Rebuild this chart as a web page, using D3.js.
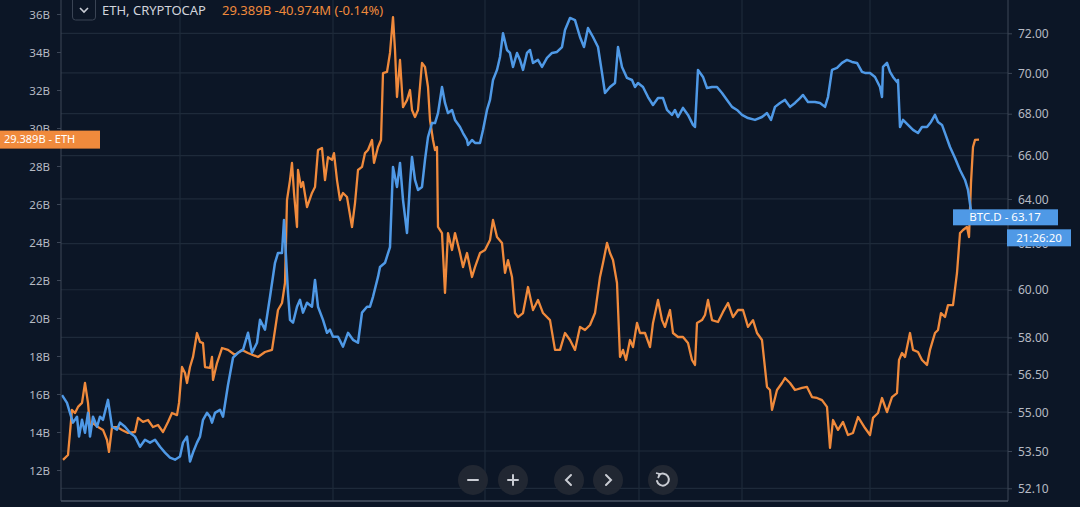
<!DOCTYPE html>
<html><head><meta charset="utf-8">
<script src="https://cdn.jsdelivr.net/npm/d3@7"></script>
<style>
html,body{margin:0;padding:0;background:#0c1626;}
svg{display:block;}
text{font-family:"Noto Sans","DejaVu Sans",sans-serif;}
</style></head>
<body><svg id="c" width="1080" height="507"></svg>
<script>
// ETH market cap (billions USD), [day, value]
const ethData = [[0.4,12.53],[2.4,12.79],[4,15.16],[5.2,15.0],[6.4,15.32],[8,15.53],[9.2,16.58],[10.4,15.53],[11.2,14.26],[12.4,14.47],[14.4,14.26],[16.4,14.11],[18,13.58],[18.8,12.95],[20,14.26],[22,14.26],[24,14.11],[26.4,13.95],[29.2,14.0],[30.4,14.74],[32.4,14.53],[34.4,14.63],[36.4,14.26],[38.4,14.37],[40.4,14.0],[42.4,14.53],[44,15.0],[46,14.89],[46.8,15.53],[48,17.42],[49.2,17.11],[50,16.58],[51.2,17.42],[52.4,17.95],[54,19.21],[55.2,18.74],[56.4,18.68],[57.2,17.42],[59.2,17.37],[60,17.95],[60.4,16.74],[62,17.63],[64,18.42],[66.4,18.32],[69.2,18.05],[72,18.32],[74.4,18.16],[78.4,17.95],[81.2,18.21],[84,18.32],[85.2,19.37],[86.4,20.42],[88,20.79],[89.2,21.84],[90,26.21],[91.2,27.26],[92,28.16],[92.8,26.58],[94,24.79],[94.4,27.79],[95.6,26.89],[96.4,27.16],[98,25.84],[100,26.58],[101.2,26.89],[102.4,28.84],[104,28.95],[105.2,27.26],[106.4,28.47],[108,28.32],[108.8,28.68],[110,27.26],[111.2,26.21],[112.4,26.58],[114,26.37],[116,24.79],[117.2,26.05],[118.4,27.79],[120,27.95],[121.2,28.68],[122.4,28.84],[124,29.37],[124.8,28.16],[126.4,29.0],[127.6,29.37],[128.4,32.89],[130,32.95],[131.2,33.95],[132.4,35.84],[133.2,34.1],[134,31.63],[135.2,33.58],[136.4,31.1],[138,31.47],[139.2,32.0],[140,30.95],[141.2,30.58],[142.4,30.95],[144,33.42],[145.2,33.21],[146.4,32.16],[147.2,30.42],[148.4,29.37],[149.2,28.84],[150,29.0],[150.4,24.79],[152,24.47],[153.2,21.32],[154.4,24.47],[156,23.58],[157.2,24.47],[159.2,23.42],[160.4,22.68],[162,23.42],[164,22.16],[165.2,22.68],[167.2,23.42],[169.2,23.58],[171.2,24.1],[172.4,25.16],[174,24.26],[176,23.95],[177.2,22.37],[178.4,23.05],[180,22.16],[181.2,20.26],[182.4,20.05],[184.4,20.26],[186.4,21.63],[188.4,20.42],[190.4,20.95],[192.4,20.26],[195.2,19.89],[197.2,18.32],[199.2,18.32],[201.2,19.21],[203.2,18.84],[205.2,18.32],[207.2,19.53],[209.2,19.37],[211.2,19.63],[213.2,20.26],[215.2,22.16],[216.4,22.89],[218,23.95],[219.2,23.42],[220.4,23.05],[222,21.84],[223.2,17.95],[224.4,18.32],[225.6,17.79],[227.2,18.84],[228.4,18.47],[230,19.74],[231.2,19.21],[233.2,19.21],[235.2,18.47],[236.4,19.74],[238.4,20.95],[240,19.89],[241.2,19.53],[243.2,20.42],[244.4,19.21],[246.4,19.0],[248.4,19.0],[250.4,18.68],[252,17.79],[253.2,17.53],[254,19.74],[256,19.89],[257.2,20.16],[258.4,20.95],[260,19.89],[262.4,19.79],[264.4,20.32],[266.4,20.79],[268.4,20.05],[270.4,20.42],[272.4,20.42],[274.4,19.53],[276.4,19.89],[278,19.21],[280,18.84],[282,16.37],[283.2,16.21],[284,15.16],[286,16.21],[288,16.58],[289.2,16.84],[291.2,16.58],[293.2,16.21],[296,16.32],[298,16.37],[300,15.84],[302,15.79],[304,15.68],[306,15.32],[307.2,13.16],[308.4,14.63],[310.4,14.11],[312.4,14.53],[314.4,13.84],[316.4,13.95],[318.4,14.79],[321.2,14.21],[323.2,13.84],[324.4,14.74],[326.4,15.0],[328,15.79],[330,15.05],[332,15.84],[334,16.05],[334.8,17.79],[336,18.16],[337.2,17.95],[339.2,19.21],[340.4,18.32],[342.4,18.21],[344,17.79],[346,17.53],[347.2,18.32],[349.2,19.21],[350.4,19.37],[351.6,20.26],[353.2,20.05],[354.4,20.68],[356.4,20.68],[358,22.37],[359.2,24.47],[360.4,24.63],[362,24.79],[362.8,24.26],[363.6,27.11],[364.4,29.0],[365.2,29.37],[366.8,29.389]];

// BTC dominance (%), [day, value]
const btcData = [[0,55.67],[2,55.36],[3.2,54.97],[4.4,54.59],[6,54.82],[6.8,54.05],[8,54.70],[9.2,54.20],[10.4,54.97],[11.2,54.05],[12.4,54.82],[14,54.43],[15.2,54.82],[16.4,54.70],[18.4,55.48],[20,54.43],[22,54.32],[23.2,54.59],[25.2,54.43],[27.2,54.20],[29.2,54.05],[31.2,53.66],[33.2,53.93],[35.2,53.82],[37.2,53.93],[39.2,53.66],[41.2,53.44],[43.2,53.25],[45.2,53.17],[47.2,53.29],[48.4,53.82],[50,54.05],[51.2,53.10],[52.4,53.44],[54,53.82],[55.2,54.05],[56.4,54.70],[58,54.97],[59.2,54.82],[60,54.59],[61.2,54.97],[63.2,55.09],[64.4,54.82],[66.4,56.07],[68.4,57.17],[70.4,57.37],[72.4,57.49],[74.4,58.19],[76,57.37],[78,57.78],[79.2,58.73],[81.2,58.32],[83.2,59.70],[85.2,61.16],[86.4,61.59],[88,61.59],[88.8,63.05],[89.6,61.42],[90.4,59.87],[91.2,58.73],[92.4,58.61],[94,59.28],[95.2,59.57],[96.4,59.03],[98,59.45],[100,59.28],[101.2,60.42],[102.4,59.28],[104.4,58.73],[106,58.19],[107.2,58.32],[108.4,58.03],[110.4,58.03],[112.4,57.62],[114.4,58.19],[116.4,57.90],[118.4,57.78],[120,59.03],[122,59.28],[123.2,59.28],[124.4,59.70],[126.4,60.55],[127.2,60.98],[129.2,61.16],[131.2,61.85],[132.4,65.47],[134,64.55],[135.2,65.66],[136.4,63.96],[138,62.47],[139.2,64.73],[140,65.94],[141.2,64.87],[142.4,64.41],[144,64.55],[145.2,65.80],[146.4,66.88],[148,67.55],[149.2,67.55],[150.4,68.03],[152,69.30],[153.2,68.52],[154.4,68.03],[156,68.18],[157.2,67.70],[159.2,67.36],[160.4,67.07],[162,66.74],[162.4,66.50],[164,66.74],[165.2,66.60],[167.2,66.60],[168.4,67.22],[170,68.18],[171.2,68.67],[172.4,69.65],[174,70.15],[175.2,70.80],[176.4,72.0],[178,71.15],[179.2,71.0],[180.4,70.30],[182,71.0],[183.2,70.65],[184.4,70.15],[186,71.0],[187.2,71.15],[188.4,70.50],[190.4,70.65],[192,70.30],[194,70.75],[196,71.0],[198,71.05],[200,71.30],[201.2,72.17],[203.2,72.79],[205.2,72.68],[207.2,71.81],[208.8,71.30],[210.4,72.27],[212.4,71.81],[214.4,71.30],[216,70.0],[217.2,69.01],[219.2,69.30],[221.2,69.50],[222.4,71.30],[224,70.30],[226,69.75],[228,69.65],[229.2,69.30],[230.4,69.50],[232.4,69.30],[234.4,68.81],[236.4,68.42],[238.4,68.76],[240.4,68.76],[242,68.18],[244,67.94],[245.2,68.18],[246.4,67.84],[248.4,68.28],[250.4,67.94],[252.4,67.46],[253.2,67.36],[254.4,70.15],[256.4,69.80],[258,69.25],[260,69.30],[262,69.30],[264,69.01],[266,68.67],[268,68.33],[270,68.18],[272,67.94],[274.4,67.79],[277.2,67.70],[280,67.84],[282,68.03],[283.6,67.70],[285.2,68.33],[287.2,68.52],[289.2,68.67],[291.2,68.33],[293.2,68.52],[295.2,68.76],[296.4,68.91],[298.4,68.57],[301.2,68.57],[303.2,68.52],[305.2,68.33],[306.4,68.81],[308,70.15],[310,70.25],[312,70.50],[314,70.65],[316,70.55],[318,70.50],[320,70.05],[321.2,70.0],[323.2,70.0],[325.2,69.80],[327.2,69.30],[328,68.81],[328.4,70.30],[330,70.50],[331.2,70.05],[332.4,69.80],[334,69.55],[334.4,69.65],[335.2,67.36],[336.4,67.70],[338.4,67.46],[340.4,67.22],[342.4,67.07],[344,67.36],[346,67.36],[347.6,67.60],[349.2,67.94],[350.4,67.60],[352,67.46],[353.2,67.07],[355.2,66.41],[357.2,65.89],[359.2,65.33],[361.2,64.87],[362.4,64.41],[364,63.17]];

const ethTicks = [12,14,16,18,20,22,24,26,28,30,32,34,36];
const btcTicks = [52.10,53.50,55.00,56.50,58.00,60.00,62.00,64.00,66.00,68.00,70.00,72.00,74.00];
const gridDays = [47.2,108.4,169.2,230.8,272,323.2];
const dayExtent = [0,378.4];

const legendName = "ETH, CRYPTOCAP";
const legendValue = "29.389B -40.974M (-0.14%)";
const ethLast = 29.389, ethLabel = "29.389B - ETH";
const btcLast = 63.17, btcLabel = "BTC.D - 63.17";
const timeLabel = "21:26:20";

const W = 1080, H = 507;
const PL = 61, PR = 1008, PT = 0, PB = 501;
const BG = "#0c1626", GRID = "#1e2a3a", AXIS = "#3c4656", TXT = "#b6bac3";
const ORANGE = "#f08a3c", BLUE = "#4f99e6";

const svg = d3.select("#c");
svg.append("rect").attr("width",W).attr("height",H).attr("fill",BG);

const x = d3.scaleLinear().domain(dayExtent).range([PL+1, PR]);
const yEth = d3.scaleLinear().domain([12,36]).range([470,14]);
const yBtc = d3.scaleLog().domain([52.1,72]).range([488.3,33.3]);

// grid
const g = svg.append("g");
g.selectAll(".hg").data(btcTicks).join("line")
  .attr("x1",PL).attr("x2",PR).attr("y1",d=>yBtc(d)).attr("y2",d=>yBtc(d))
  .attr("stroke",GRID).attr("stroke-width",1.2);
g.selectAll(".vg").data(gridDays).join("line")
  .attr("x1",d=>x(d)).attr("x2",d=>x(d)).attr("y1",PT).attr("y2",PB)
  .attr("stroke",GRID).attr("stroke-width",1.2);

// lines
svg.append("clipPath").attr("id","clip").append("rect")
  .attr("x",PL).attr("y",PT).attr("width",PR-PL).attr("height",PB-PT);
const plot = svg.append("g").attr("clip-path","url(#clip)");
const lineEth = d3.line().x(d=>x(d[0])).y(d=>yEth(d[1]));
const lineBtc = d3.line().x(d=>x(d[0])).y(d=>yBtc(d[1]));
plot.append("path").datum(ethData).attr("d",lineEth).attr("fill","none")
  .attr("stroke",ORANGE).attr("stroke-width",2.3).attr("stroke-linejoin","round");
plot.append("path").datum(btcData).attr("d",lineBtc).attr("fill","none")
  .attr("stroke",BLUE).attr("stroke-width",2.5).attr("stroke-linejoin","round");

// axes lines
svg.append("line").attr("x1",PL).attr("x2",PL).attr("y1",0).attr("y2",PB).attr("stroke",AXIS);
svg.append("line").attr("x1",PR).attr("x2",PR).attr("y1",0).attr("y2",PB).attr("stroke",AXIS);
svg.append("line").attr("x1",PL).attr("x2",PR).attr("y1",PB).attr("y2",PB).attr("stroke","#4a5464").attr("stroke-width",1.5);

// left axis
const la = svg.append("g").attr("transform",`translate(${PL},0)`)
  .call(d3.axisLeft(yEth).tickValues(ethTicks).tickSize(4).tickPadding(7).tickFormat(d=>d+"B"));
la.select(".domain").remove();
la.selectAll(".tick line").attr("stroke",AXIS);
la.selectAll("text").attr("fill",TXT).attr("font-size",11.5).attr("dy","0.35em");

// right axis
const ra = svg.append("g").attr("transform",`translate(${PR},0)`)
  .call(d3.axisRight(yBtc).tickValues(btcTicks).tickSize(4).tickPadding(6).tickFormat(d3.format(".2f")));
ra.select(".domain").remove();
ra.selectAll(".tick line").attr("stroke",AXIS);
ra.selectAll("text").attr("fill",TXT).attr("font-size",12).attr("dy","0.35em");

// price labels
const ey = yEth(ethLast);
svg.append("rect").attr("x",0).attr("y",ey-9).attr("width",100).attr("height",18).attr("fill",ORANGE);
svg.append("text").attr("x",4).attr("y",ey).attr("dy","0.35em").attr("fill","#fff").attr("font-size",11).text(ethLabel);

const by = yBtc(btcLast);
svg.append("rect").attr("x",953).attr("y",by-8).attr("width",105).attr("height",16).attr("fill",BLUE);
svg.append("text").attr("x",1005).attr("y",by).attr("dy","0.35em").attr("text-anchor","middle").attr("fill","#fff").attr("font-size",11.5).text(btcLabel);
svg.append("rect").attr("x",1007).attr("y",by+12).attr("width",64).attr("height",17).attr("fill",BLUE);
svg.append("text").attr("x",1039).attr("y",by+20.5).attr("dy","0.35em").attr("text-anchor","middle").attr("fill","#fff").attr("font-size",11.5).text(timeLabel);

// legend
const lg = svg.append("g");
lg.append("rect").attr("x",72.5).attr("y",-3).attr("width",23).attr("height",23).attr("rx",3)
  .attr("fill","none").attr("stroke","#3a4454");
lg.append("path").attr("d","M80,8 L84,12 L88,8").attr("fill","none").attr("stroke","#c8ccd4").attr("stroke-width",1.6);
lg.append("text").attr("x",102).attr("y",10).attr("dy","0.35em").attr("fill","#d1d4dc").attr("font-size",13).text(legendName);
lg.append("text").attr("x",222).attr("y",10).attr("dy","0.35em").attr("fill",ORANGE).attr("font-size",13).text(legendValue);

// navigation controls
const controls = [{cx:473,k:"minus"},{cx:513,k:"plus"},{cx:569,k:"left"},{cx:608,k:"right"},{cx:663,k:"reset"}];
const cg = svg.append("g");
controls.forEach(c=>{
  const cy = 480;
  cg.append("circle").attr("cx",c.cx).attr("cy",cy).attr("r",15).attr("fill","#232833").attr("opacity",0.95);
  let p;
  if(c.k==="minus") p=`M${c.cx-5},${cy} L${c.cx+5},${cy}`;
  if(c.k==="plus") p=`M${c.cx-5},${cy} L${c.cx+5},${cy} M${c.cx},${cy-5} L${c.cx},${cy+5}`;
  if(c.k==="left") p=`M${c.cx+2},${cy-5} L${c.cx-3},${cy} L${c.cx+2},${cy+5}`;
  if(c.k==="right") p=`M${c.cx-2},${cy-5} L${c.cx+3},${cy} L${c.cx-2},${cy+5}`;
  if(c.k==="reset") p=`M${c.cx-4},${cy-5} A6,6 0 1,1 ${c.cx-6},${cy+1}`;
  cg.append("path").attr("d",p).attr("fill","none").attr("stroke","#c9ccd3")
    .attr("stroke-width",2).attr("stroke-linecap","round");
  if(c.k==="reset") cg.append("path").attr("d",`M${c.cx-7},${cy-7} L${c.cx-3},${cy-6} L${c.cx-5},${cy-2}`).attr("fill","none").attr("stroke","#c9ccd3").attr("stroke-width",1.8);
});
</script></body></html>
